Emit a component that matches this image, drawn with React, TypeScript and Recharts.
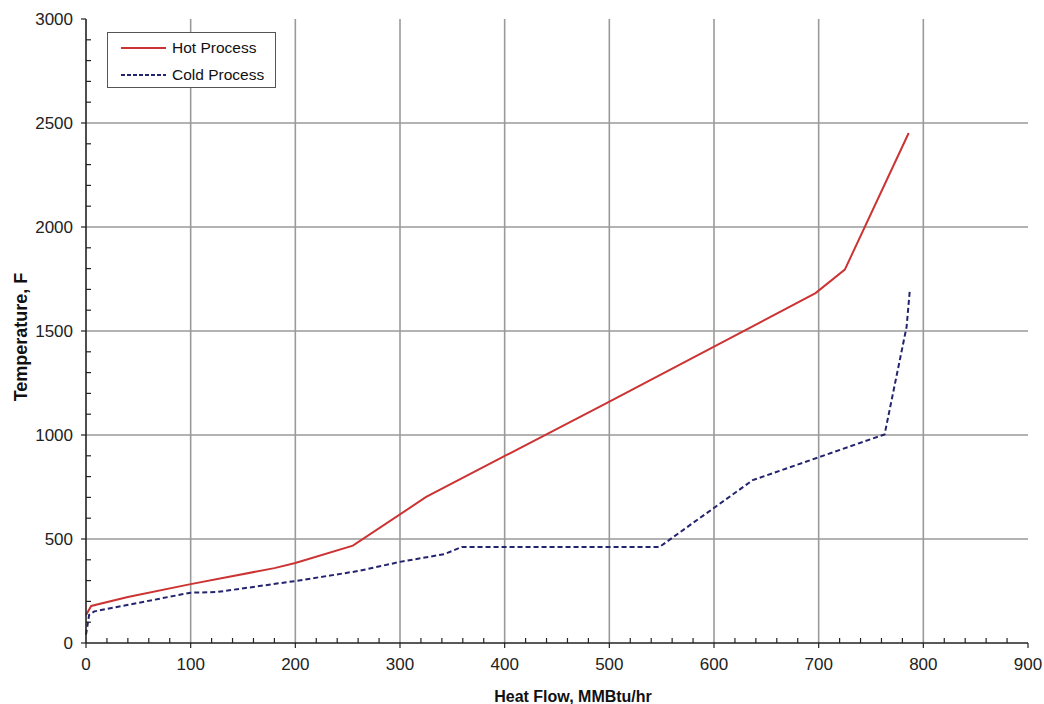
import React from "react";
import {
  LineChart,
  Line,
  XAxis,
  YAxis,
  CartesianGrid,
  Legend,
  Label,
} from "recharts";

// heat flow (MMBtu/hr) vs temperature (F)
const hotHeat = [0, 5, 40, 100, 180, 200, 255, 325, 402, 501, 697, 725, 786];
const hotTemp = [135, 178, 221, 283, 360, 385, 468, 702, 904, 1163, 1682, 1795, 2452];

const coldHeat = [0, 3, 8, 100, 125, 200, 260, 300, 343, 359, 548, 637, 763, 784, 787];
const coldTemp = [40, 135, 152, 242, 245, 298, 346, 390, 428, 462, 462, 783, 1003, 1520, 1690];

const xTicks = Array.from({ length: 46 }, (_, i) => i * 20);
const yTicks = Array.from({ length: 31 }, (_, i) => i * 100);
const xGrid = [100, 200, 300, 400, 500, 600, 700, 800];
const yGrid = [500, 1000, 1500, 2000, 2500];

const hotData = hotHeat.map((x, i) => ({ heat: x, temp: hotTemp[i] }));
const coldData = coldHeat.map((x, i) => ({ heat: x, temp: coldTemp[i] }));

const HOT = "#cc3333";
const COLD = "#23236e";
const FONT = "'Liberation Sans', Arial, sans-serif";

function XTick({ x, y, payload }: any) {
  const major = payload.value % 100 === 0;
  return (
    <g>
      <line x1={x} x2={x} y1={y} y2={major ? y + 5 : y - 5} stroke="#222" strokeWidth={1.2} />
      {major && (
        <text x={x} y={y + 27} textAnchor="middle" fontSize={17} fill="#222" fontFamily={FONT}>
          {payload.value}
        </text>
      )}
    </g>
  );
}

function YTick({ x, y, payload }: any) {
  const major = payload.value % 500 === 0;
  return (
    <g>
      <line x1={x} x2={major ? x - 5 : x + 5} y1={y} y2={y} stroke="#222" strokeWidth={1.2} />
      {major && (
        <text x={x - 13} y={y} dy="0.35em" textAnchor="end" fontSize={17} fill="#222" fontFamily={FONT}>
          {payload.value}
        </text>
      )}
    </g>
  );
}

function LegendBox() {
  const row = (color: string, dash: string | undefined, text: string) => (
    <div style={{ display: "flex", alignItems: "center", height: 27 }}>
      <svg width={50} height={10} style={{ marginRight: 5 }}>
        <line x1={4} x2={49} y1={5} y2={5} stroke={color} strokeWidth={2} strokeDasharray={dash} />
      </svg>
      <span style={{ fontSize: 15.5, color: "#111", fontFamily: FONT }}>{text}</span>
    </div>
  );
  return (
    <div
      style={{
        width: 169,
        height: 56,
        border: "1px solid #555",
        background: "#fff",
        boxSizing: "border-box",
        paddingLeft: 9,
        paddingTop: 1,
        textAlign: "left",
      }}
    >
      {row(HOT, undefined, "Hot Process")}
      {row(COLD, "4 2", "Cold Process")}
    </div>
  );
}

export default function App() {
  return (
    <div style={{ position: "absolute", left: 0, top: 0, background: "#fff" }}>
      <LineChart
        width={1044}
        height={704}
        margin={{ top: 19, right: 16, bottom: 0, left: 0 }}
      >
        <CartesianGrid
          stroke="#9a9a9a"
          strokeWidth={1.6}
          horizontalValues={yGrid}
          verticalValues={xGrid}
        />
        <XAxis
          dataKey="heat"
          type="number"
          domain={[0, 900]}
          ticks={xTicks}
          interval={0}
          tickSize={0}
          tickMargin={0}
          tick={<XTick />}
          height={61}
          axisLine={{ stroke: "#222", strokeWidth: 1.6 }}
          allowDuplicatedCategory={false}
        >
          <Label
            content={({ viewBox }: any) => (
              <text
                x={viewBox.x + viewBox.width / 2 + 16}
                y={702}
                textAnchor="middle"
                fontSize={16}
                fontWeight="bold"
                fill="#111"
                fontFamily={FONT}
              >
                Heat Flow, MMBtu/hr
              </text>
            )}
          />
        </XAxis>
        <XAxis
          xAxisId="top"
          orientation="top"
          type="number"
          domain={[0, 900]}
          height={0}
          tick={false}
          tickLine={false}
          axisLine={{ stroke: "#222", strokeWidth: 2 }}
        />
        <YAxis
          dataKey="temp"
          type="number"
          domain={[0, 3000]}
          ticks={yTicks}
          interval={0}
          tickSize={0}
          tickMargin={0}
          tick={<YTick />}
          width={86}
          axisLine={{ stroke: "#222", strokeWidth: 1.6 }}
        >
          <Label
            content={({ viewBox }: any) => {
              const cx = 27;
              const cy = viewBox.y + viewBox.height / 2 + 6;
              return (
                <text
                  x={cx}
                  y={cy}
                  transform={`rotate(-90 ${cx} ${cy})`}
                  textAnchor="middle"
                  fontSize={18}
                  fontWeight="bold"
                  fill="#111"
                  fontFamily={FONT}
                >
                  Temperature, F
                </text>
              );
            }}
          />
        </YAxis>
        <YAxis
          yAxisId="right"
          orientation="right"
          type="number"
          domain={[0, 3000]}
          width={0}
          tick={false}
          tickLine={false}
          axisLine={{ stroke: "#222", strokeWidth: 2 }}
        />
        <Legend
          layout="horizontal"
          verticalAlign="middle"
          align="center"
          content={() => <LegendBox />}
          wrapperStyle={{ left: 107, top: 32, width: 169, height: 56 }}
        />
        <Line
          data={hotData}
          dataKey="temp"
          name="Hot Process"
          type="linear"
          stroke={HOT}
          strokeWidth={2}
          dot={false}
          isAnimationActive={false}
        />
        <Line
          data={coldData}
          dataKey="temp"
          name="Cold Process"
          type="linear"
          stroke={COLD}
          strokeWidth={2}
          strokeDasharray="5 3"
          dot={false}
          isAnimationActive={false}
        />
      </LineChart>
    </div>
  );
}
